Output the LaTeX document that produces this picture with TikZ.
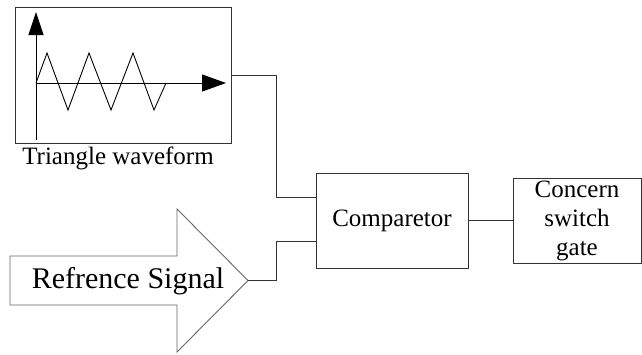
\documentclass[tikz,border=0pt]{standalone}
\usepackage{fontspec}
\setmainfont{Liberation Serif}
\newfontfamily\timesface{Liberation Serif}
\usetikzlibrary{arrows.meta, calc}

\begin{document}
\begin{tikzpicture}[x=1pt, y=-1pt, line width=0.9pt,
    blockbox/.style={draw=black!80, inner sep=0pt, font=\timesface\fontsize{25}{29}\selectfont},
    wire/.style={draw=black!80}]
            \useasboundingbox (0,0) rectangle (642,354);

            % triangle waveform box
            \node[blockbox, minimum width=216pt, minimum height=136pt] (wave) at (123,75) {};
            \node[font=\timesface\fontsize{25}{29}\selectfont] (wavelabel) at (118,158) {Triangle waveform};
            \draw[-{Triangle[length=23pt, width=15pt]}] (36,140) -- (36,12);
            \draw[-{Triangle[length=24pt, width=17pt]}] (36,83) -- (226,83);
            \draw (36,83) -- (47,53) -- (68,110) -- (89,53) -- (111,110) -- (133,53) -- (154,110) -- (166,83);

            % blocks
            \node[blockbox, minimum width=152pt, minimum height=95pt] (cmp) at (392,220.5) {Comparetor};
            \node[blockbox, minimum width=128pt, minimum height=85pt, align=center] (gate) at (577,220.5) {Concern\\switch\\gate};

            % reference signal arrow
            \draw[draw=black!60, fill=white] (10,256) -- (177,256) -- (177,209) -- (248,280.5) -- (177,352) -- (177,305) -- (10,305) -- cycle;
            \coordinate (sig) at (248,280.5);
            \node[font=\timesface\fontsize{30}{34}\selectfont] (siglabel) at (128,281) {Refrence Signal};

            % wires
            \coordinate (J1) at (276,197);
            \coordinate (J2) at (276,241);
            \draw[wire] (wave.east) -| (J1) -- (cmp.west |- J1);
            \draw[wire] (sig) -| (J2) -- (cmp.west |- J2);
            \draw[wire] (cmp) -- (gate);
        \end{tikzpicture}
\end{document}
